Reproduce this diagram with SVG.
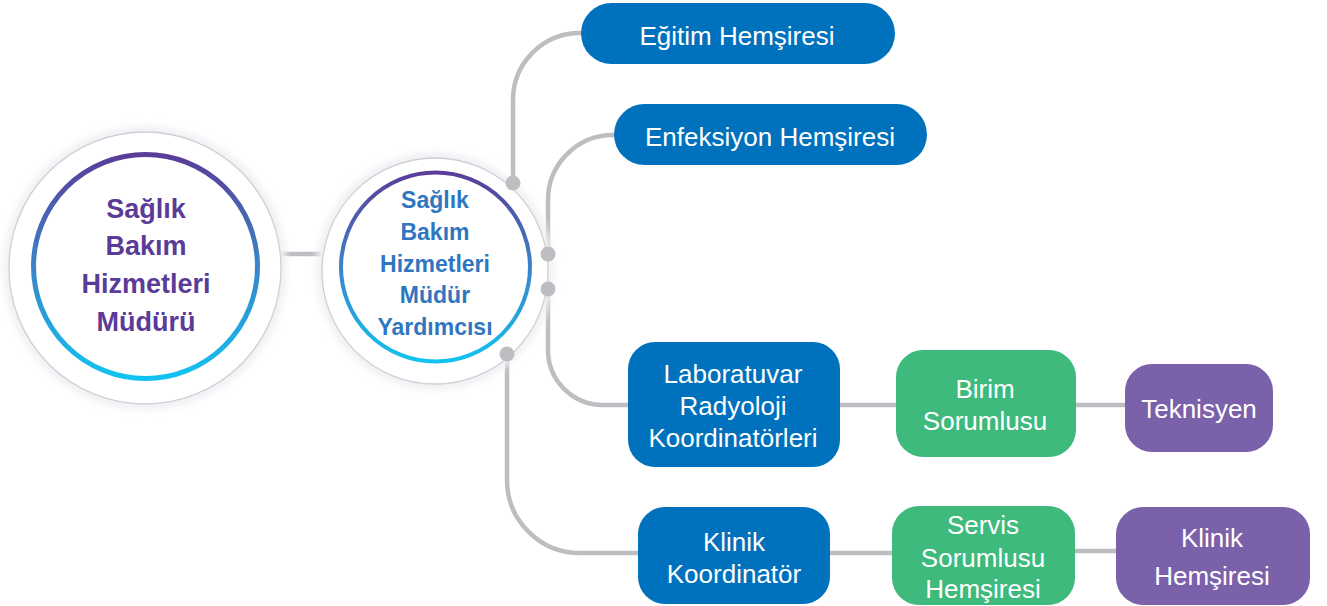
<svg xmlns="http://www.w3.org/2000/svg" width="1327" height="606" viewBox="0 0 1327 606">
  <defs>
    <linearGradient id="ring" x1="0" y1="0" x2="0" y2="1">
      <stop offset="0" stop-color="#5a3d98"/>
      <stop offset="0.5" stop-color="#3b83c8"/>
      <stop offset="1" stop-color="#12c2f0"/>
    </linearGradient>
    <filter id="soft" x="-20%" y="-20%" width="140%" height="140%">
      <feGaussianBlur stdDeviation="3"/>
    </filter>
  </defs>
  <style>
    .halo { fill: #f1f1f4; filter: url(#soft); }
    .thin { fill: #ffffff; stroke: #cdd0d8; stroke-width: 1.3; }
    .ring { fill: none; stroke: url(#ring); }
    .conn { fill: none; stroke: #bdbec1; stroke-width: 4.5; }
    .dot { fill: #bdbec1; }
    .blue { fill: #0071bc; }
    .green { fill: #3dba7c; }
    .purple { fill: #7a61aa; }
    .lbl { font-family: "Liberation Sans", Arial, sans-serif; font-size: 26px; fill: #ffffff; text-anchor: middle; }
    .big { font-family: "Liberation Sans", Arial, sans-serif; font-weight: bold; font-size: 27px; fill: #5a3b98; text-anchor: middle; }
    .mid { font-family: "Liberation Sans", Arial, sans-serif; font-weight: bold; font-size: 23px; fill: #2f76c0; text-anchor: middle; }
  </style>
  <rect width="1327" height="606" fill="#ffffff"/>

  <g id="connectors">
    <line class="conn" x1="280" y1="254" x2="324" y2="254"/>
    <path class="conn" d="M513,183 V100 A67,67 0 0 1 580,33 H590"/>
    <path class="conn" d="M548,254 V200 A65,65 0 0 1 613,135 H620"/>
    <path class="conn" d="M548,289 V350 A55,55 0 0 0 603,405 H632"/>
    <path class="conn" d="M507,354 V480 A73,73 0 0 0 580,553 H642"/>
    <line class="conn" x1="838" y1="405" x2="898" y2="405"/>
    <line class="conn" x1="1074" y1="405" x2="1127" y2="405"/>
    <line class="conn" x1="828" y1="553" x2="894" y2="553"/>
    <line class="conn" x1="1073" y1="551" x2="1118" y2="551"/>
  </g>

  <g id="node-mudur">
    <circle class="halo" cx="145" cy="268" r="142"/>
    <circle class="thin" cx="145" cy="268" r="136"/>
    <circle class="ring" cx="145.5" cy="266.5" r="112" stroke-width="5"/>
    <text class="big" x="146" y="218">Sağlık</text>
    <text class="big" x="146" y="255">Bakım</text>
    <text class="big" x="146" y="293">Hizmetleri</text>
    <text class="big" x="146" y="331">Müdürü</text>
  </g>

  <g id="node-yardimci">
    <circle class="halo" cx="435" cy="271" r="119"/>
    <circle class="thin" cx="435" cy="271" r="113"/>
    <circle class="ring" cx="435.5" cy="267" r="94.5" stroke-width="4"/>
    <text class="mid" x="435" y="208">Sağlık</text>
    <text class="mid" x="435" y="240">Bakım</text>
    <text class="mid" x="435" y="272">Hizmetleri</text>
    <text class="mid" x="435" y="303">Müdür</text>
    <text class="mid" x="435" y="335">Yardımcısı</text>
  </g>

  <g id="dots">
    <circle class="dot" cx="513" cy="183" r="7.5"/>
    <circle class="dot" cx="548" cy="254" r="7.5"/>
    <circle class="dot" cx="548" cy="289" r="7.5"/>
    <circle class="dot" cx="507" cy="354" r="7.5"/>
  </g>

  <g id="node-egitim">
    <rect class="blue" x="581" y="3" width="314" height="61" rx="30.5"/>
    <text class="lbl" x="737" y="45">Eğitim Hemşiresi</text>
  </g>

  <g id="node-enfeksiyon">
    <rect class="blue" x="614" y="104" width="313" height="61" rx="30.5"/>
    <text class="lbl" x="770" y="146">Enfeksiyon Hemşiresi</text>
  </g>

  <g id="node-lab">
    <rect class="blue" x="628" y="342" width="212" height="125" rx="27"/>
    <text class="lbl" x="733" y="383">Laboratuvar</text>
    <text class="lbl" x="733" y="415">Radyoloji</text>
    <text class="lbl" x="733" y="447">Koordinatörleri</text>
  </g>

  <g id="node-klinik-koord">
    <rect class="blue" x="638" y="507" width="192" height="97" rx="27"/>
    <text class="lbl" x="734" y="551">Klinik</text>
    <text class="lbl" x="734" y="583">Koordinatör</text>
  </g>

  <g id="node-birim">
    <rect class="green" x="896" y="350" width="180" height="107" rx="27"/>
    <text class="lbl" x="985" y="398">Birim</text>
    <text class="lbl" x="985" y="430">Sorumlusu</text>
  </g>

  <g id="node-teknisyen">
    <rect class="purple" x="1125" y="364" width="148" height="88" rx="27"/>
    <text class="lbl" x="1199" y="418">Teknisyen</text>
  </g>

  <g id="node-servis">
    <rect class="green" x="892" y="506" width="183" height="99" rx="27"/>
    <text class="lbl" x="983" y="534">Servis</text>
    <text class="lbl" x="983" y="567">Sorumlusu</text>
    <text class="lbl" x="983" y="598">Hemşiresi</text>
  </g>

  <g id="node-klinik-hemsire">
    <rect class="purple" x="1116" y="507" width="194" height="98" rx="27"/>
    <text class="lbl" x="1212" y="547">Klinik</text>
    <text class="lbl" x="1212" y="585">Hemşiresi</text>
  </g>
</svg>
